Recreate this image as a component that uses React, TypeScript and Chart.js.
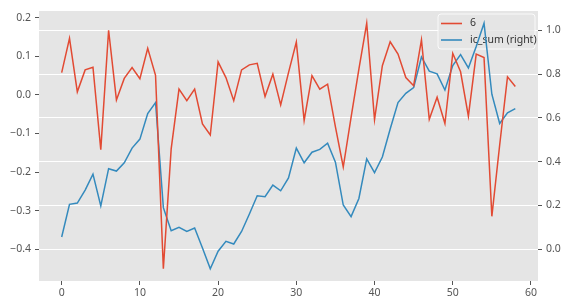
import React, { useEffect, useRef } from "react";
import { Chart, registerables } from "chart.js";

Chart.register(...registerables);

const series6: number[] = [
  0.058, 0.147, 0.008, 0.065, 0.072, -0.142, 0.168, -0.013, 0.043, 0.071,
  0.042, 0.121, 0.051, -0.451, -0.14, 0.015, -0.015, 0.015, -0.075, -0.104,
  0.086, 0.045, -0.015, 0.065, 0.078, 0.082, -0.004, 0.054, -0.026, 0.058,
  0.137, -0.066, 0.05, 0.015, 0.028, -0.083, -0.187, -0.058, 0.067, 0.186,
  -0.064, 0.076, 0.138, 0.106, 0.045, 0.024, 0.143, -0.063, -0.006, -0.074,
  0.108, 0.06, -0.055, 0.106, 0.097, -0.315, -0.13, 0.047, 0.022,
];

const icSum: number[] = [
  0.056, 0.205, 0.211, 0.27, 0.343, 0.198, 0.368, 0.357, 0.395, 0.462,
  0.503, 0.62, 0.67, 0.19, 0.085, 0.1, 0.081, 0.097, 0.006, -0.089,
  -0.009, 0.036, 0.024, 0.081, 0.161, 0.244, 0.24, 0.293, 0.267, 0.326,
  0.462, 0.395, 0.443, 0.456, 0.484, 0.398, 0.202, 0.149, 0.232, 0.413,
  0.35, 0.421, 0.549, 0.67, 0.712, 0.738, 0.878, 0.813, 0.801, 0.727,
  0.839, 0.889, 0.828, 0.926, 1.032, 0.708, 0.574, 0.623, 0.642,
];

const categories: number[] = series6.map((_, i) => i);

const xTicks: number[] = [0, 10, 20, 30, 40, 50, 60];
const leftTicks: number[] = [-0.4, -0.3, -0.2, -0.1, 0.0, 0.1, 0.2];
const rightTicks: number[] = [0.0, 0.2, 0.4, 0.6, 0.8, 1.0];

const legendLabels: string[] = ["6", "ic_sum (right)"];
const RED = "#E24A33";
const BLUE = "#348ABD";
const FONT = "'Noto Sans', 'DejaVu Sans', sans-serif";

function padRange(arr: number[]) {
  const mn = Math.min(...arr);
  const mx = Math.max(...arr);
  const m = (mx - mn) * 0.05;
  return [mn - m, mx + m];
}

const fmt = (v: number) => {
  const s = Math.abs(v).toFixed(1);
  return v < -1e-9 ? "\u2212" + s : s;
};

export default function App() {
  const ref = useRef<HTMLCanvasElement | null>(null);

  useEffect(() => {
    if (!ref.current) return;
    const [xMin, xMax] = padRange(categories);
    const [lMin, lMax] = padRange(series6);
    const [rMin, rMax] = padRange(icSum);

    const bgPlugin = {
      id: "bg",
      beforeDraw(chart: any) {
        const { ctx, chartArea } = chart;
        ctx.save();
        ctx.fillStyle = "#E5E5E5";
        ctx.fillRect(chartArea.left, chartArea.top, chartArea.right - chartArea.left, chartArea.bottom - chartArea.top);
        ctx.restore();
      },
    };

    const legendPlugin = {
      id: "customLegend",
      beforeDatasetDraw(chart: any, args: any) {
        if (args.index !== 1) return;
        const { ctx, chartArea } = chart;
        const w = 97;
        const h = 35;
        const x = chartArea.right - w - 3;
        const y = chartArea.top + 3;
        ctx.save();
        ctx.fillStyle = "rgba(229,229,229,0.8)";
        ctx.strokeStyle = "rgba(255,255,255,0.8)";
        ctx.lineWidth = 1;
        const r = 3;
        ctx.beginPath();
        ctx.moveTo(x + r, y);
        ctx.lineTo(x + w - r, y);
        ctx.quadraticCurveTo(x + w, y, x + w, y + r);
        ctx.lineTo(x + w, y + h - r);
        ctx.quadraticCurveTo(x + w, y + h, x + w - r, y + h);
        ctx.lineTo(x + r, y + h);
        ctx.quadraticCurveTo(x, y + h, x, y + h - r);
        ctx.lineTo(x, y + r);
        ctx.quadraticCurveTo(x, y, x + r, y);
        ctx.closePath();
        ctx.fill();
        ctx.stroke();
        const colors = [RED, BLUE];
        const rows = [y + 9.5, y + 26];
        ctx.font = `10.5px ${FONT}`;
        ctx.textBaseline = "middle";
        ctx.textAlign = "left";
        for (let i = 0; i < legendLabels.length; i++) {
          ctx.strokeStyle = colors[i];
          ctx.lineWidth = 1.6;
          ctx.beginPath();
          ctx.moveTo(x + 3, rows[i]);
          ctx.lineTo(x + 24, rows[i]);
          ctx.stroke();
          ctx.fillStyle = "#333";
          ctx.fillText(legendLabels[i], x + 32, rows[i]);
        }
        ctx.restore();
      },
    };

    const tickFont = { family: FONT, size: 10.5 };

    const chart = new Chart(ref.current, {
      type: "line",
      data: {
        datasets: [
          {
            label: legendLabels[0],
            data: series6.map((v, i) => ({ x: categories[i], y: v })),
            borderColor: RED,
            borderWidth: 1.5,
            pointRadius: 0,
            tension: 0,
            yAxisID: "y",
          },
          {
            label: legendLabels[1],
            data: icSum.map((v, i) => ({ x: categories[i], y: v })),
            borderColor: BLUE,
            borderWidth: 1.5,
            pointRadius: 0,
            tension: 0,
            yAxisID: "y1",
          },
        ],
      },
      options: {
        animation: false,
        responsive: false,
        maintainAspectRatio: false,
        devicePixelRatio: 1,
        layout: { padding: { top: 11, left: 0, right: 0, bottom: 0 } },
        plugins: {
          legend: { display: false },
          tooltip: { enabled: false },
        },
        scales: {
          x: {
            type: "linear",
            min: xMin,
            max: xMax,
            afterBuildTicks: (s: any) => {
              s.ticks = xTicks.map((v) => ({ value: v }));
            },
            afterFit: (s: any) => {
              s.height = 26;
            },
            border: { display: false },
            grid: {
              drawOnChartArea: false,
              drawTicks: true,
              tickLength: 4,
              tickColor: "#555",
            },
            ticks: {
              color: "#555",
              font: tickFont,
              padding: 2,
              maxRotation: 0,
              callback: (v: any) => String(v),
            },
          },
          y: {
            type: "linear",
            position: "left",
            min: lMin,
            max: lMax,
            afterBuildTicks: (s: any) => {
              s.ticks = leftTicks.map((v) => ({ value: v }));
            },
            afterFit: (s: any) => {
              s.width = 39;
            },
            border: { display: false },
            grid: {
              drawOnChartArea: false,
              drawTicks: true,
              tickLength: 4,
              tickColor: "#555",
            },
            ticks: {
              color: "#555",
              font: tickFont,
              padding: 4,
              callback: (v: any) => fmt(Number(v)),
            },
          },
          y1: {
            type: "linear",
            position: "right",
            min: rMin,
            max: rMax,
            afterBuildTicks: (s: any) => {
              s.ticks = rightTicks.map((v) => ({ value: v }));
            },
            afterFit: (s: any) => {
              s.width = 30;
            },
            border: { display: false },
            grid: {
              drawOnChartArea: true,
              color: "#FFFFFF",
              lineWidth: 1,
              drawTicks: true,
              tickLength: 4,
              tickColor: "#555",
            },
            ticks: {
              color: "#555",
              font: tickFont,
              padding: 4,
              callback: (v: any) => fmt(Number(v)),
            },
          },
        },
      },
      plugins: [bgPlugin, legendPlugin],
    } as any);

    return () => chart.destroy();
  }, []);

  return (
    <div style={{ position: "absolute", left: 0, top: 0, width: 568, height: 307, background: "#fff" }}>
      <canvas ref={ref} width={568} height={307} />
    </div>
  );
}
